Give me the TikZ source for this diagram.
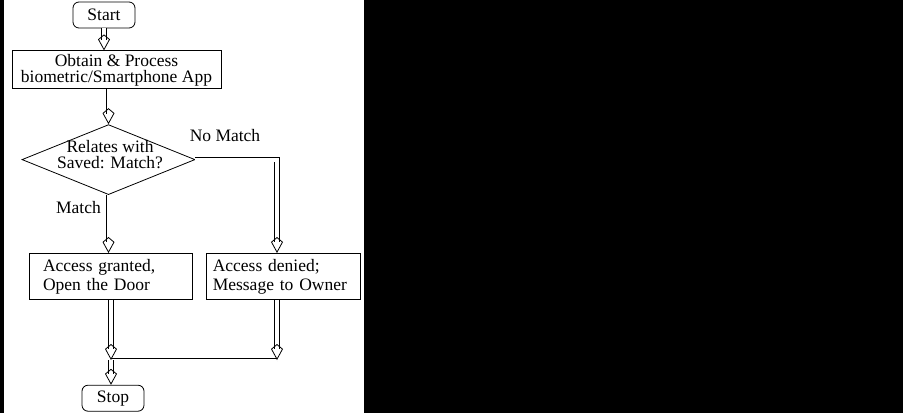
\documentclass[tikz,border=0pt]{standalone}
\usepackage{fontspec}
\setmainfont{Liberation Serif}
\usetikzlibrary{positioning,shapes.geometric,arrows.meta}

\begin{document}
\begin{tikzpicture}[x=1pt, y=-1pt, font=\fontsize{17.5}{16}\selectfont,
    block/.style = {draw, line width=0.8pt, inner sep=0pt},
    term/.style = {block, rounded corners=6pt, minimum width=62pt, minimum height=26pt},
    proc/.style = {block, minimum width=209pt, minimum height=38pt, align=center},
    result/.style = {block, minimum height=46pt, align=left, font=\fontsize{17.5}{19}\selectfont},
    check/.style = {block, diamond, aspect=2.47, minimum width=173pt, minimum height=70pt},
    flow/.style = {double, double distance=4pt, line width=0.8pt,
        -{Kite[open, length=16pt, width=12pt, inset=5pt, line width=0.8pt]}},
    flowline/.style = {double, double distance=3pt, line width=0.8pt}]
    \fill[black] (0,0) rectangle (903,413);
    \fill[white] (4,0) rectangle (364,413);
    \node[term](start) at (104,15){Start};
    \node[proc](obtain)[below = 22pt of start, xshift = 12.5pt]{Obtain \& Process\\biometric/Smartphone App};
    \node[check](dia)[below = 35pt of obtain, xshift = -8pt]{};
    \node[align=center](diatext) at (110,155){Relates with\\Saved: Match?};
    \node[result, text width=135pt, inner xsep=14pt](granted)[below = 58pt of dia, xshift = 2pt]{Access granted,\\Open the Door};
    \node[result, text width=142pt, inner xsep=6pt](denied)[right = 14pt of granted]{Access denied;\\Message to Owner};
    \node[term](stop)[below = 85pt of granted, xshift = 2.5pt]{Stop};
    \node(match) at (78.5,208){Match};
    \node(nomatch) at (225,136){No Match};
    \coordinate (jl) at (111,360);
    \coordinate (jr) at (277,360);
    % connectors
    \draw[flowline] (jr) -- (jl);
    \draw[flow] (start) -- (obtain.north -| start);
    \draw[flow] (obtain.south -| dia.north) -- (dia.north);
    \draw[flow] (dia.south) -- (granted.north -| dia.south);
    \draw[flow] (dia.east) -- (dia.east -| jr) -- (denied.north -| jr);
    \draw[flow] (granted.south -| jl) -- (jl);
    \draw[flow] (denied.south -| jr) -- (jr);
    \draw[flow] (jl) -- (stop.north -| jl);
\end{tikzpicture}
\end{document}
